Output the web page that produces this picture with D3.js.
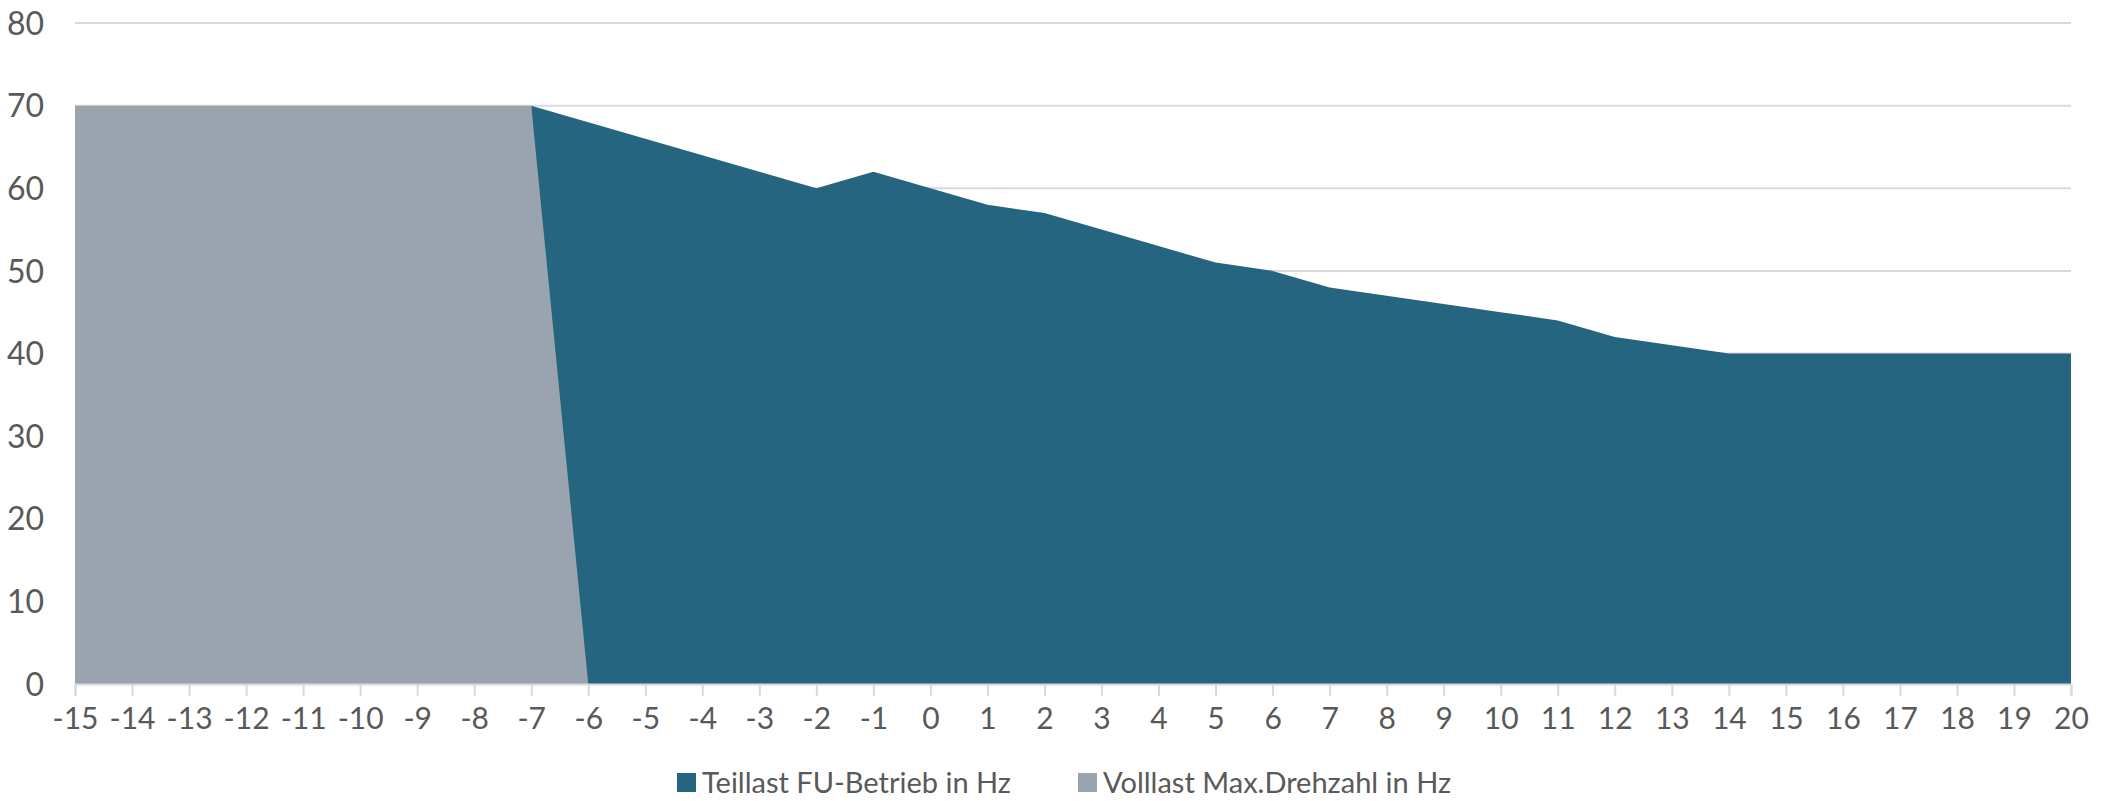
<!DOCTYPE html>
<html><head><meta charset="utf-8">
<script src="https://cdn.jsdelivr.net/npm/d3@7"></script>
<style>body{margin:0;background:#fff}svg{display:block}text{font-family:Lato,"Open Sans",sans-serif;fill:#595959}</style>
</head><body><svg id="c" width="2112" height="801"></svg>
<script>
const xCategories = d3.range(-15, 21);
const teillastX = [-7,-6,-5,-4,-3,-2,-1,0,1,2,3,4,5,6,7,8,9,10,11,12,13,14,15,16,17,18,19,20];
const teillastValues = [70,68,66,64,62,60,62,60,58,57,55,53,51,50,48,47,46,45,44,42,41,40,40,40,40,40,40,40];
const volllastX = [-15,-14,-13,-12,-11,-10,-9,-8,-7,-6,-5,-4,-3,-2,-1,0,1,2,3,4,5,6,7,8,9,10,11,12,13,14,15,16,17,18,19,20];
const volllastValues = [70,70,70,70,70,70,70,70,70,0,0,0,0,0,0,0,0,0,0,0,0,0,0,0,0,0,0,0,0,0,0,0,0,0,0,0];
const yTicks = [0,10,20,30,40,50,60,70,80];
const seriesNames = ["Teillast FU-Betrieb in Hz","Volllast Max.Drehzahl in Hz"];
const colors = ["#25657f","#9aa4ae"];

const svg = d3.select("#c");
const L = 75, R = 2071, T = 23, B = 684;
const x = d3.scaleLinear().domain([-15, 20]).range([L, R]);
const y = d3.scaleLinear().domain([0, 80]).range([B, T]);

// gridlines
svg.append("g").selectAll("line").data(yTicks.filter(d => d > 0)).join("line")
  .attr("x1", L).attr("x2", R).attr("y1", d => y(d)).attr("y2", d => y(d))
  .attr("stroke", "#d9d9d9").attr("stroke-width", 2);

const area = d3.area().x(d => x(d[0])).y0(y(0)).y1(d => y(d[1]));
svg.append("path").datum(teillastX.map((v, i) => [v, teillastValues[i]]))
  .attr("d", area).attr("fill", colors[0]);
svg.append("path").datum(volllastX.map((v, i) => [v, volllastValues[i]]))
  .attr("d", area).attr("fill", colors[1]);

// y axis labels
const ya = svg.append("g").attr("transform", `translate(${L - 31},0)`)
  .call(d3.axisLeft(y).tickValues(yTicks).tickSize(0).tickPadding(0));
ya.select(".domain").remove();
ya.selectAll("text").style("font-size", "32px").attr("fill", "#595959").attr("dy", "0.35em");

// x axis
const xa = svg.append("g").attr("transform", `translate(0,${B})`)
  .call(d3.axisBottom(x).tickValues(xCategories).tickSize(12).tickPadding(12).tickFormat(d => String(d)));
xa.select(".domain").attr("stroke", "#d9d9d9").attr("stroke-width", 2);
xa.selectAll(".tick line").attr("stroke", "#d9d9d9").attr("stroke-width", 2);
xa.selectAll("text").style("font-size", "30px").attr("fill", "#595959");

// legend
const lg = svg.append("g");
const lx = [677, 1078];
seriesNames.forEach((n, i) => {
  lg.append("rect").attr("x", lx[i]).attr("y", 773).attr("width", 19).attr("height", 19).attr("fill", colors[i]);
  lg.append("text").attr("x", lx[i] + 25).attr("y", 783).attr("dy", "0.35em")
    .style("font-size", "29px").text(n);
});
</script></body></html>
